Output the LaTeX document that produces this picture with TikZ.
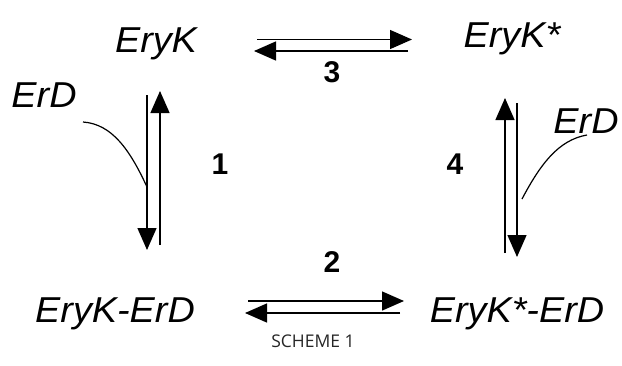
\documentclass[tikz,border=0pt]{standalone}
\usepackage{fontspec}
\setmainfont{Liberation Sans}
\newfontfamily\capfont{Open Sans}
\usetikzlibrary{arrows.meta}
\tikzset{
  lbl/.style={font=\fontsize{36}{40}\selectfont\itshape, inner sep=0pt, anchor=base, xscale=1.05},
  num/.style={font=\fontsize{30}{34}\selectfont\bfseries, inner sep=0pt, anchor=base},
  rxn/.style={line width=1.4pt, -{Triangle[length=22pt,width=19pt]}},
  bind/.style={line width=1.2pt},
}
\begin{document}
\begin{tikzpicture}[x=1pt,y=-1pt]
\useasboundingbox (0,0) rectangle (622,365);
% labels
\node[lbl] (eryk) at (156,52) {EryK};
\node[lbl] (erykS) at (512,47) {EryK*};
\node[lbl] (ec) at (115,322) {EryK-ErD};
\node[lbl] (ecS) at (517,322) {EryK*-ErD};
\node[lbl] (erdL) at (44,107) {ErD};
\node[lbl] (erdR) at (586,133) {ErD};
\node[num] (n1) at (220,174) {1};
\node[num] (n2) at (332,272) {2};
\node[num] (n3) at (332,82) {3};
\node[num] (n4) at (455,174) {4};
\node[font=\capfont\fontsize{17.5}{20}\selectfont, text=black!85, inner sep=0pt, anchor=base] (cap) at (313,347) {SCHEME 1};
% coordinates
\coordinate (a3s) at (257,39.5); \coordinate (a3e) at (412,39.5);
\coordinate (b3s) at (408,51);   \coordinate (b3e) at (254,51);
\coordinate (a2s) at (248,301);  \coordinate (a2e) at (404,301);
\coordinate (b2s) at (400,313);  \coordinate (b2e) at (245,313);
\coordinate (a1s) at (147,95);   \coordinate (a1e) at (147,250);
\coordinate (b1s) at (160,245);  \coordinate (b1e) at (160,91);
\coordinate (a4s) at (505,253);  \coordinate (a4e) at (505,98);
\coordinate (b4s) at (517,103);  \coordinate (b4e) at (517,257);
\coordinate (cL0) at (83,122);   \coordinate (cL1) at (147,187);
\coordinate (cR0) at (587,135);  \coordinate (cR1) at (522,199);
% arrows
\draw[rxn] (a3s) -- (a3e);
\draw[rxn] (b3s) -- (b3e);
\draw[rxn] (a2s) -- (a2e);
\draw[rxn] (b2s) -- (b2e);
\draw[rxn] (a1s) -- (a1e);
\draw[rxn] (b1s) -- (b1e);
\draw[rxn] (a4s) -- (a4e);
\draw[rxn] (b4s) -- (b4e);
% binding curves
\draw[bind] (cL0) .. controls (112,124) and (130,150) .. (cL1);
\draw[bind] (cR0) .. controls (558,140) and (540,165) .. (cR1);
\end{tikzpicture}
\end{document}
